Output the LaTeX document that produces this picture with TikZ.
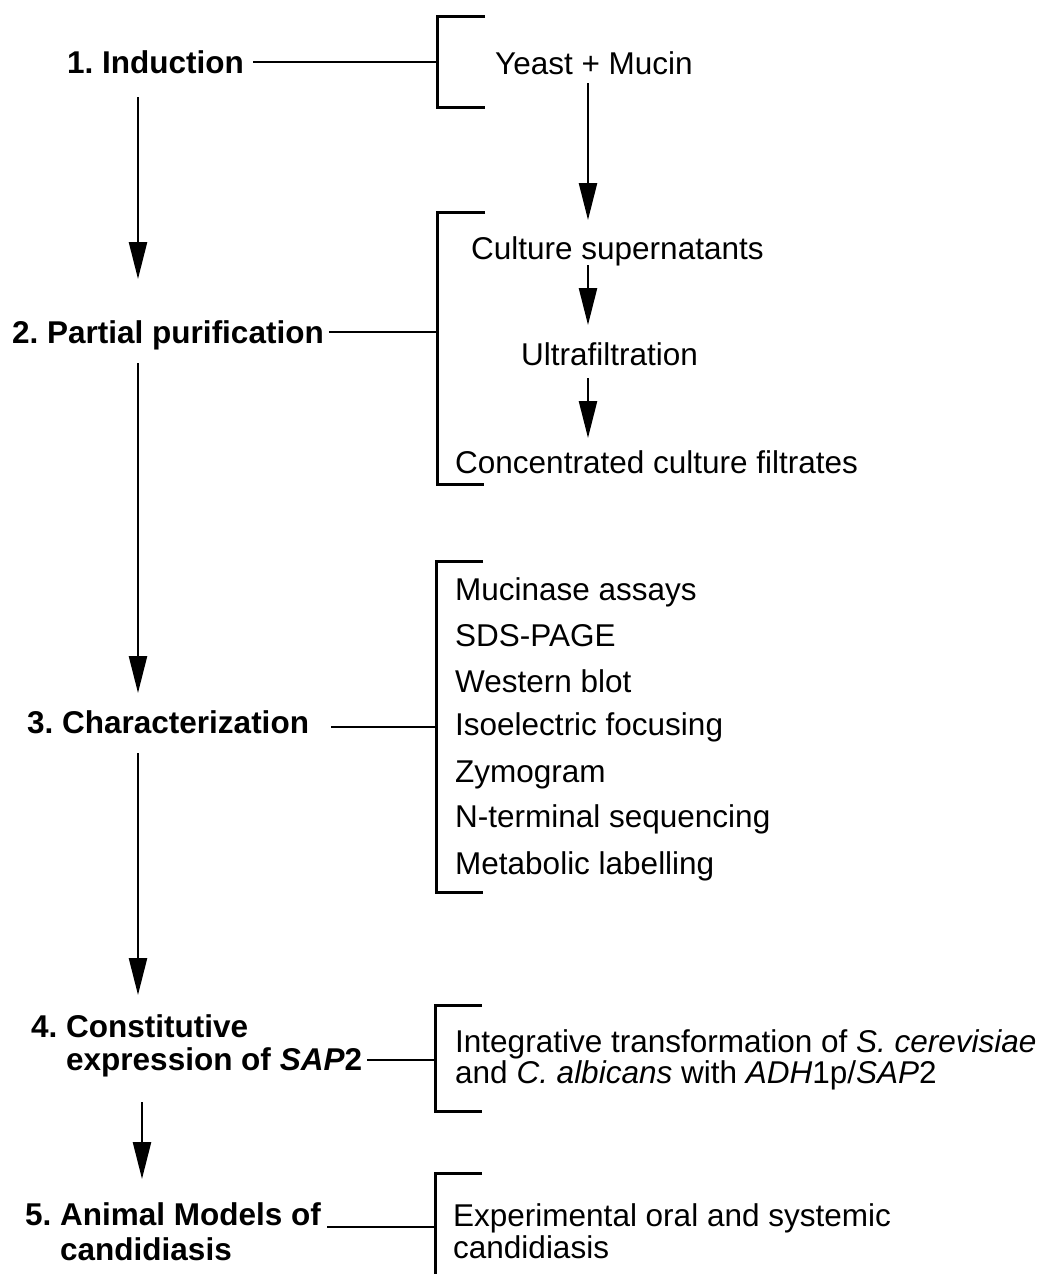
\documentclass[tikz,border=0pt]{standalone}
\usepackage{fontspec}
\setmainfont{Liberation Sans}
\usetikzlibrary{arrows.meta}
\frenchspacing
\begin{document}
\frenchspacing
\begin{tikzpicture}[x=1pt,y=-1pt,
  lab/.style={font=\fontsize{31.5}{36}\selectfont\bfseries, inner sep=0pt, anchor=base west},
  txt/.style={font=\fontsize{31.5}{36}\selectfont, inner sep=0pt, anchor=base west},
  brk/.style={line width=3pt},
  conn/.style={line width=2.5pt},
  arr/.style={line width=2.5pt, -{Triangle[length=37pt,width=18pt]}}]
\useasboundingbox (0,0) rectangle (1045,1274);

% left-hand step labels
\node[lab] (l1)  at (67,73)    {1. Induction};
\node[lab] (l2)  at (12,343)   {2. Partial purification};
\node[lab] (l3)  at (27,733)   {3. Characterization};
\node[lab] (l4)  at (31,1037)  {4. Constitutive};
\node[lab] (l4b) at (66,1070)  {expression of \textit{SAP}2};
\node[lab] (l5)  at (25,1225)  {5. Animal Models of};
\node[lab] (l5b) at (60,1260)  {candidiasis};

% right-hand texts
\node[txt] (r1)  at (495,74)   {Yeast + Mucin};
\node[txt] (r2a) at (471,259)  {Culture supernatants};
\node[txt] (r2b) at (521,365)  {Ultrafiltration};
\node[txt] (r2c) at (455,473)  {Concentrated culture filtrates};
\node[txt] (r3a) at (455,600)  {Mucinase assays};
\node[txt] (r3b) at (455,646)  {SDS-PAGE};
\node[txt] (r3c) at (455,692)  {Western blot};
\node[txt] (r3d) at (455,735)  {Isoelectric focusing};
\node[txt] (r3e) at (455,782)  {Zymogram};
\node[txt] (r3f) at (455,827)  {N-terminal sequencing};
\node[txt] (r3g) at (455,874)  {Metabolic labelling};
\node[txt] (r4a) at (455,1052) {Integrative transformation of \textit{S. cerevisiae}};
\node[txt] (r4b) at (455,1083) {and \textit{C. albicans} with \textit{ADH}1p/\textit{SAP}2};
\node[txt] (r5a) at (453,1226) {Experimental oral and systemic};
\node[txt] (r5b) at (453,1258) {candidiasis};

% brackets
\coordinate (j1) at (437,62);
\coordinate (j2) at (437,332);
\coordinate (j3) at (436,727);
\coordinate (j4) at (435,1060);
\coordinate (j5) at (435,1227);
\draw[brk] (485,16) -| (437,107) -- (485,107);
\draw[brk] (485,212) -| (437,484) -- (484,484);
\draw[brk] (483,561) -| (436,892) -- (483,892);
\draw[brk] (482,1005) -| (435,1111) -- (482,1111);
\draw[brk] (482,1173) -| (435,1280);

% connectors label -> bracket
\draw[conn] (l1.east |- j1) ++(9,0) -- (j1);
\draw[conn] (l2.east |- j2) ++(5,0) -- (j2);
\draw[conn] (l3.east |- j3) ++(22,0) -- (j3);
\draw[conn] (l4b.east |- j4) ++(5,0) -- (j4);
\draw[conn] (l5.east |- j5) ++(6,0) -- (j5);

% main vertical arrows
\coordinate (ax) at (138,0);
\coordinate (bx) at (142,0);
\draw[arr, shorten <=24pt, shorten >=64pt] (l1.base -| ax) -- (l2.base -| ax);
\draw[arr, shorten <=20pt, shorten >=40pt] (l2.base -| ax) -- (l3.base -| ax);
\draw[arr, shorten <=20pt, shorten >=42pt] (l3.base -| ax) -- (l4.base -| ax);
\draw[arr, shorten <=32pt, shorten >=46pt] (l4b.base -| bx) -- (l5.base -| bx);

% inner arrows
\coordinate (cx) at (588,0);
\draw[arr, shorten <=9pt, shorten >=39pt] (r1.base -| cx) -- (r2a.base -| cx);
\draw[arr, shorten <=6pt, shorten >=40pt] (r2a.base -| cx) -- (r2b.base -| cx);
\draw[arr, shorten <=13pt, shorten >=35pt] (r2b.base -| cx) -- (r2c.base -| cx);
\end{tikzpicture}
\end{document}
